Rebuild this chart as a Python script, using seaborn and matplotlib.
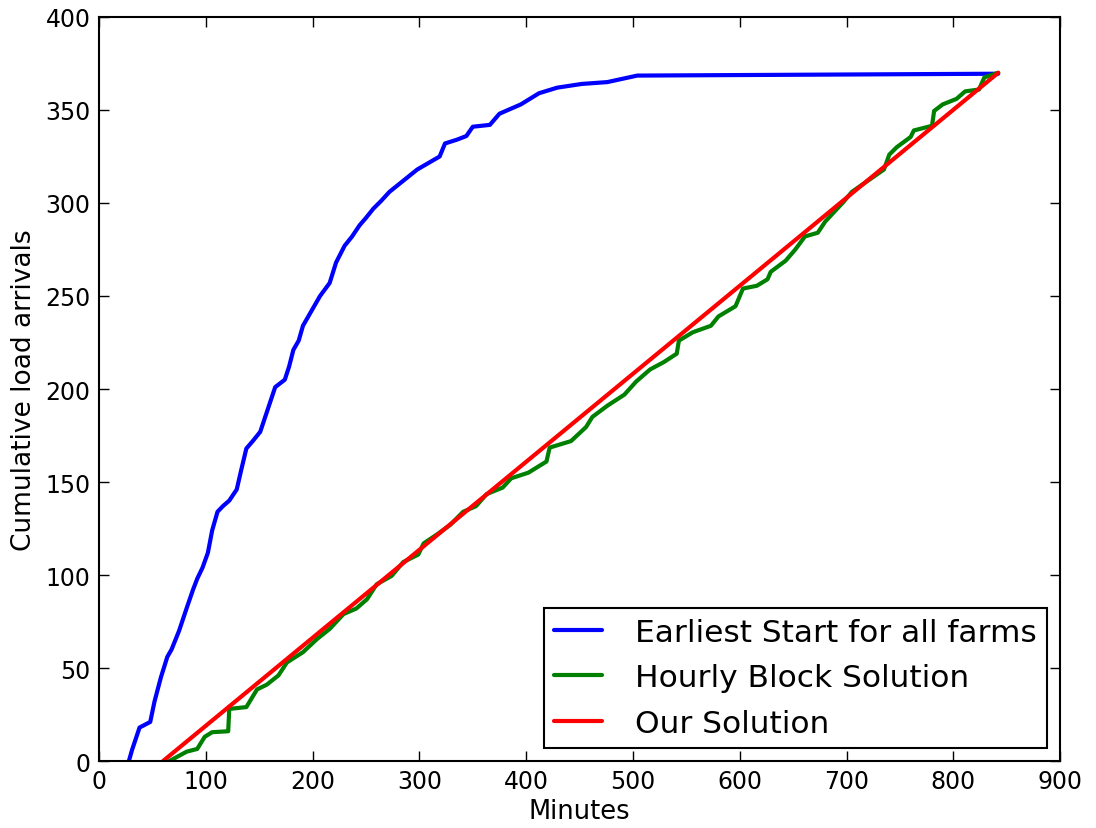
import numpy as np
import pandas as pd
import matplotlib
matplotlib.use("Agg")
import matplotlib.pyplot as plt
import seaborn as sns

# Earliest start for all farms (blue)
earliest_min = [28, 31, 38, 48, 52, 58, 64, 68, 75, 82, 88, 92, 97, 102, 106, 111, 116,
                122, 129, 133, 138, 144, 151, 158, 165, 174, 178, 182, 187, 191, 199, 207,
                216, 222, 230, 237, 244, 250, 257, 264, 272, 285, 298, 310, 319, 324,
                335, 344, 350, 366, 375, 395, 412, 429, 452, 476, 504, 842]
earliest_loads = [0, 6, 18, 21, 32, 45, 56, 60, 70, 82, 92, 98, 104, 112, 124, 134, 137,
                  140, 146, 156, 168, 172, 177, 189, 201, 205, 212, 221, 226, 234, 242, 250,
                  257, 268, 277, 282, 288, 292, 297, 301, 306, 312, 318, 322, 325, 332,
                  334, 336, 341, 342, 348, 353, 359, 362, 364, 365, 368.5, 369.5]

# Hourly block solution (green)
hourly_min = [66, 82, 92, 99, 106, 121, 122, 138, 148, 157, 168, 176, 191, 204, 216,
              229, 241, 251, 260, 274, 285, 299, 304, 317, 329, 341, 353, 363, 378,
              386, 402, 419, 422, 442, 456, 462, 476, 492, 503, 516, 529, 541, 543,
              556, 573, 580, 596, 603, 616, 626, 629, 643, 652, 661, 673, 680, 697,
              705, 720, 735, 740, 747, 760, 763, 780, 782, 790, 803, 811, 824, 829, 842]
hourly_loads = [0, 5, 6.5, 13, 15.5, 16, 28, 29, 38.5, 41, 46, 53, 58.5, 65.5, 71,
                79, 82, 87, 95, 99.5, 107, 111, 117, 122, 127, 134, 137, 143.5, 147,
                152, 155, 161, 168.5, 172, 179.5, 185, 191, 197, 204, 210.5, 214.5, 219, 226,
                230.5, 234, 239, 244.5, 254, 255.5, 259, 263, 269, 275, 282, 284, 290, 300.5,
                306, 312, 318, 326, 330, 335.5, 339, 341.5, 349.5, 353, 356, 360, 361, 367.5, 370]

# Our solution (red)
ours_min = [60, 842]
ours_loads = [0, 370]

series = [
    ("Earliest Start for all farms", earliest_min, earliest_loads, "#0000ff"),
    ("Hourly Block Solution", hourly_min, hourly_loads, "#008000"),
    ("Our Solution", ours_min, ours_loads, "#ff0000"),
]

sns.set_style("ticks")
plt.rcParams["font.family"] = ["DejaVu Sans"]
plt.rcParams["text.color"] = "black"
plt.rcParams["axes.labelcolor"] = "black"

fig = plt.figure(figsize=(10.96, 8.29), dpi=100)
ax = fig.add_axes([0.0903, 0.0808, 0.877, 0.8975])

for name, xs, ys, col in series:
    df = pd.DataFrame({"Minutes": xs, "Loads": ys})
    sns.lineplot(data=df, x="Minutes", y="Loads", ax=ax, color=col,
                 linewidth=3, label=name, sort=False, estimator=None)

ax.set_xlim(0, 900)
ax.set_ylim(0, 400)
ax.set_xticks(np.arange(0, 901, 100))
ax.set_yticks(np.arange(0, 401, 50))
ax.set_xlabel("Minutes", fontsize=18.5, labelpad=3)
ax.set_ylabel("Cumulative load arrivals", fontsize=19, labelpad=6)
ax.tick_params(direction="in", length=7, width=1, top=True, right=True,
               labelsize=17, colors="black", pad=6)
for sp in ax.spines.values():
    sp.set_visible(True)
    sp.set_linewidth(1.5)
    sp.set_color("black")

leg = ax.legend(loc="lower right", fontsize=22.5, frameon=True, fancybox=False,
                handlelength=1.55, borderpad=0.32, labelspacing=0.53,
                handletextpad=1.05, borderaxespad=0.42)
leg.get_frame().set_edgecolor("black")
leg.get_frame().set_linewidth(1.5)
leg.get_frame().set_alpha(1)

fig.savefig("out.png", dpi=100)
